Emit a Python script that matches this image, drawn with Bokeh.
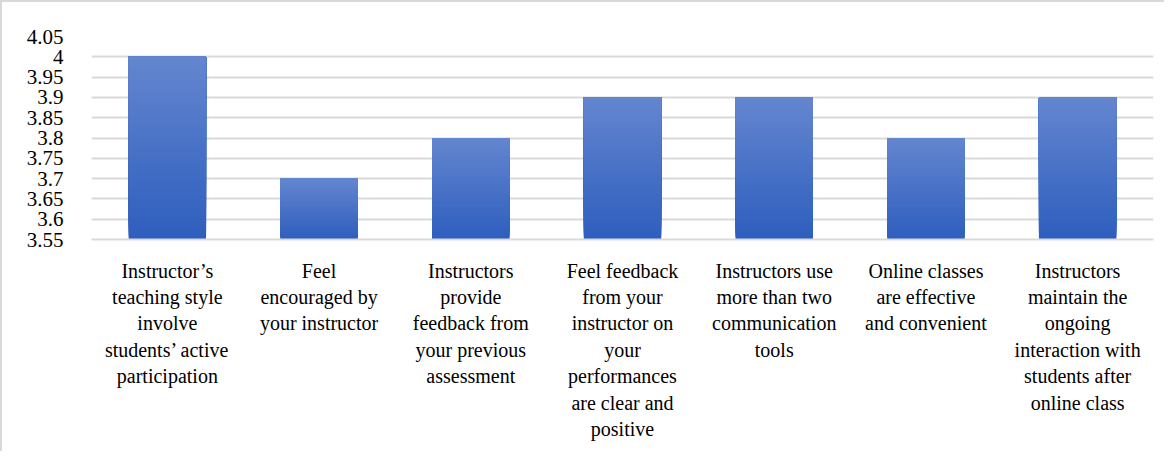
from bokeh.plotting import figure
from bokeh.embed import file_html
from bokeh.resources import INLINE
from bokeh.models import FixedTicker, Range1d, FactorRange, CustomJSTickFormatter

categories = [
    "Instructor\u2019s\nteaching style\ninvolve\nstudents\u2019 active\nparticipation",
    "Feel\nencouraged by\nyour instructor",
    "Instructors\nprovide\nfeedback from\nyour previous\nassessment",
    "Feel feedback\nfrom your\ninstructor on\nyour\nperformances\nare clear and\npositive",
    "Instructors use\nmore than two\ncommunication\ntools",
    "Online classes\nare effective\nand convenient",
    "Instructors\nmaintain the\nongoing\ninteraction with\nstudents after\nonline class",
]
values = [4.0, 3.7, 3.8, 3.9, 3.9, 3.8, 3.9]
y_ticks = [3.55, 3.6, 3.65, 3.7, 3.75, 3.8, 3.85, 3.9, 3.95, 4.0, 4.05]
y_tick_labels = ["3.55", "3.6", "3.65", "3.7", "3.75", "3.8", "3.85", "3.9", "3.95", "4", "4.05"]

Y_MIN, Y_MAX = 3.55, 4.05
FONT = "Liberation Serif"

p = figure(width=1164, height=451, output_backend="svg", toolbar_location=None,
           x_range=FactorRange(factors=categories, range_padding=0), y_range=Range1d(Y_MIN, Y_MAX),
           min_border_left=89, min_border_right=13, min_border_top=34, min_border_bottom=214)
p.styles = {"border-left": "2px solid #D9D9D9", "border-top": "2px solid #D9D9D9"}
p.outline_line_color = None
p.background_fill_color = "white"

# gradient bars: overlapping slices, each from its base up to the bar's value
top_rgb = (100, 134, 207)
bot_rgb = (46, 94, 190)
N = 60
xs, bottoms, tops, colors = [], [], [], []
for cat, v in zip(categories, values):
    h = v - Y_MIN
    for k in range(N):
        f = (k + 0.5) / N
        c = tuple(int(round(bot_rgb[j] + (top_rgb[j] - bot_rgb[j]) * f)) for j in range(3))
        xs.append(cat)
        bottoms.append(Y_MIN + h * k / N)
        tops.append(v)
        colors.append("#%02x%02x%02x" % c)
p.vbar(x=xs, width=0.51, bottom=bottoms, top=tops, fill_color=colors, line_color=None)

# axes
p.xaxis.major_label_text_font = FONT
p.xaxis.major_label_text_font_size = "20px"
p.xaxis.major_label_text_color = "black"
p.xaxis.major_label_standoff = 14
p.xaxis.axis_line_color = "#D9D9D9"
p.xaxis.axis_line_width = 2
p.xaxis.major_tick_line_color = None
p.xaxis.minor_tick_line_color = None

p.yaxis.ticker = FixedTicker(ticks=y_ticks)
p.yaxis.formatter = CustomJSTickFormatter(args=dict(tvals=y_ticks, tlabels=y_tick_labels), code="""
    let best = 0;
    for (let i = 0; i < tvals.length; i++) {
        if (Math.abs(tvals[i] - tick) < Math.abs(tvals[best] - tick)) best = i;
    }
    return tlabels[best];
""")
p.yaxis.major_label_text_font = FONT
p.yaxis.major_label_text_font_size = "21px"
p.yaxis.major_label_text_color = "black"
p.yaxis.major_label_standoff = 22
p.yaxis.axis_line_color = None
p.yaxis.major_tick_line_color = None
p.yaxis.minor_tick_line_color = None

p.xgrid.grid_line_color = None
p.ygrid.grid_line_color = "#D9D9D9"
p.ygrid.grid_line_width = 2
p.ygrid.level = "underlay"

open("out.html", "w").write(file_html(p, INLINE))
